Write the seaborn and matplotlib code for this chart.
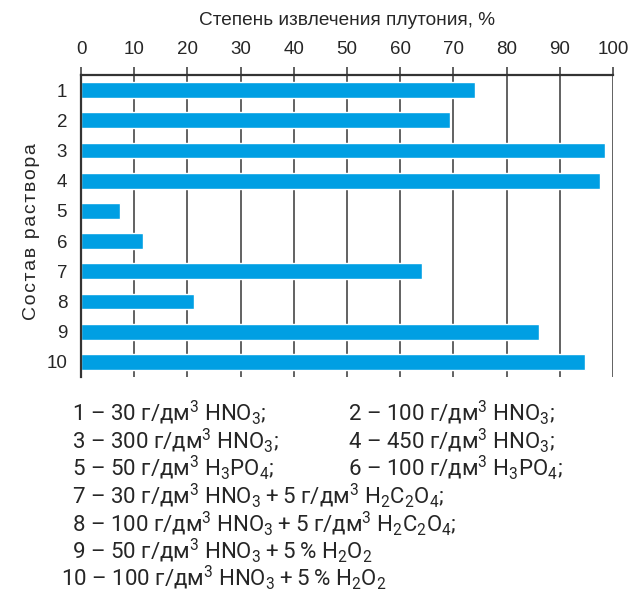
import pandas as pd
import seaborn as sns
import matplotlib.pyplot as plt
from matplotlib.ticker import FixedLocator

# data
solutions = ['1', '2', '3', '4', '5', '6', '7', '8', '9', '10']
extraction = [74.1, 69.4, 98.5, 97.6, 7.3, 11.7, 64.1, 21.2, 86.1, 94.7]

legend_left = [
    '1 – 30 г/дм$^3$ HNO$_3$;',
    '3 – 300 г/дм$^3$ HNO$_3$;',
    '5 – 50 г/дм$^3$ H$_3$PO$_4$;',
    '7 – 30 г/дм$^3$ HNO$_3$\u2009+\u20095 г/дм$^3$ H$_2$C$_2$O$_4$;',
    '8 – 100 г/дм$^3$ HNO$_3$\u2009+\u20095 г/дм$^3$ H$_2$C$_2$O$_4$;',
    '9 – 50 г/дм$^3$ HNO$_3$\u2009+\u20095\u2009% H$_2$O$_2$',
    '10 – 100 г/дм$^3$ HNO$_3$\u2009+\u20095\u2009% H$_2$O$_2$',
]
legend_right = [
    '2 – 100 г/дм$^3$ HNO$_3$;',
    '4 – 450 г/дм$^3$ HNO$_3$;',
    '6 – 100 г/дм$^3$ H$_3$PO$_4$;',
]

# styling
sns.set_style('white')
plt.rcParams['font.family'] = ['Liberation Sans', 'DejaVu Sans']
plt.rcParams['mathtext.fontset'] = 'custom'
plt.rcParams['mathtext.rm'] = 'Roboto'
plt.rcParams['mathtext.default'] = 'rm'

df = pd.DataFrame({'Состав': solutions, 'Степень': extraction})

fig = plt.figure(figsize=(6.41, 5.97), dpi=100)
ax = fig.add_axes([0.1264, 0.3685, 0.8299, 0.5059])

# grid first so bars sit on top
for v in range(10, 101, 10):
    ax.axvline(v, color='#555555', linewidth=1.3, zorder=0)

sns.barplot(data=df, x='Степень', y='Состав', order=solutions, orient='h',
            color='#009fe3', saturation=1, width=0.52, ax=ax, zorder=2)

ax.set_xlim(0, 100)
ax.set_ylim(9.5, -0.5)
ax.xaxis.tick_top()
ax.xaxis.set_label_position('top')
ax.set_xticks(range(0, 101, 10))
ax.tick_params(axis='x', direction='out', length=6, width=1.2, color='#444444',
               labelsize=13.5, pad=6)
ax.tick_params(axis='y', which='major', length=0, labelsize=13.5, pad=10)
ax.yaxis.set_minor_locator(FixedLocator([i - 0.5 for i in range(11)]))
ax.tick_params(axis='y', which='minor', direction='out', length=6, width=1.2,
               color='#222222')
ax.set_xlabel('Степень извлечения плутония, %', fontsize=13.7, labelpad=12)
# letter-spaced axis title, as in the original
ax.set_ylabel('\u200a'.join('Состав раствора'), fontsize=14)
ax.yaxis.set_label_coords(-0.078, 0.48)

for side in ['right', 'bottom']:
    ax.spines[side].set_visible(False)
for side in ['top', 'left']:
    ax.spines[side].set_color('#333333')
    ax.spines[side].set_linewidth(1.6)

# composition key under the chart
lf = dict(fontsize=16, family=['Roboto', 'DejaVu Sans'], va='center')
ys = [413, 441, 468, 496, 524, 551, 578]
for i, line in enumerate(legend_left):
    x = 61 if line.startswith('10') else 72
    fig.text(x / 641, 1 - ys[i] / 597, line, **lf)
for i, line in enumerate(legend_right):
    fig.text(348 / 641, 1 - ys[i] / 597, line, **lf)

plt.savefig('out.png', dpi=100)
